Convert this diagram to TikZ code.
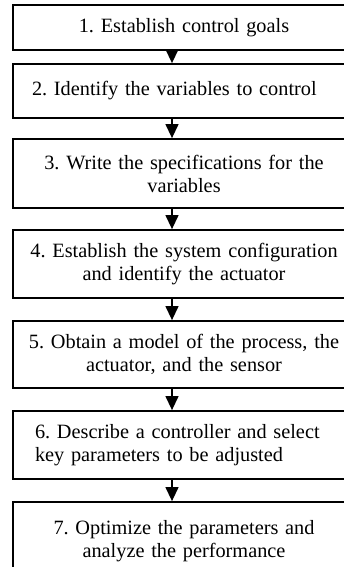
\documentclass[tikz,border=0pt]{standalone}
\usepackage{fontspec}
\setmainfont{Liberation Serif}
\usetikzlibrary{arrows.meta}
\frenchspacing
\begin{document}
\begin{tikzpicture}[x=1pt,y=-1pt,
  stepbox/.style={draw, line width=1.8pt, minimum width=341.5pt, text width=330pt,
    inner sep=0pt, align=center, font=\fontsize{20.3}{23}\selectfont\frenchspacing},
  leftbox/.style={stepbox, text width=298pt, align=left},
  flow/.style={line width=1.3pt, -{Triangle[length=14pt,width=13pt]}}]
\useasboundingbox (0,0) rectangle (344,567);
\clip (0,0) rectangle (344,567);
\coordinate (ax) at (172,0);
\node[stepbox, minimum height=45pt] (s1) at (184,27.5) {1. Establish control goals};
\node[leftbox, text width=304pt, minimum height=54pt] (s2) at (184,91) {2. Identify the variables to control};
\node[stepbox, minimum height=69pt] (s3) at (184,173.5) {3. Write the specifications for the\\variables};
\node[stepbox, minimum height=68pt] (s4) at (184,264) {4. Establish the system configuration\\and identify the actuator};
\node[stepbox, minimum height=67pt] (s5) at (184,354.5) {5. Obtain a model of the process, the\\actuator, and the sensor};
\node[leftbox, minimum height=68pt] (s6) at (184,445) {\makebox[298pt][s]{6. Describe a controller and select}\\key parameters to be adjusted};
\node[stepbox, minimum height=78pt] (s7) at (184,541) {7. Optimize the parameters and\\analyze the performance};
\draw[flow] (s1.south -| ax) -- (s2.north -| ax);
\draw[flow] (s2.south -| ax) -- (s3.north -| ax);
\draw[flow] (s3.south -| ax) -- (s4.north -| ax);
\draw[flow] (s4.south -| ax) -- (s5.north -| ax);
\draw[flow] (s5.south -| ax) -- (s6.north -| ax);
\draw[flow] (s6.south -| ax) -- (s7.north -| ax);
\end{tikzpicture}
\end{document}
